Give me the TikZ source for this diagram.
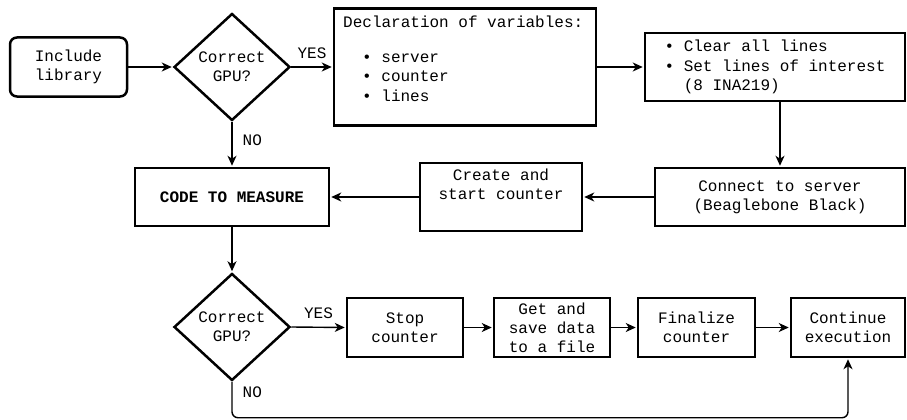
\documentclass[tikz,border=0pt]{standalone}
\usepackage{fontspec}
\setmainfont{Liberation Mono}
\usetikzlibrary{shapes.geometric,arrows.meta}

\tikzset{
    block/.style={draw, line width=2.5pt, inner sep=0pt, align=center, font=\fontsize{16}{19.2}\selectfont},
    decision/.style={diamond, draw, line width=2.5pt, inner sep=0pt, align=center, minimum width=116pt, minimum height=107pt, font=\fontsize{16}{19.2}\selectfont},
    arr/.style={line width=1.4pt, shorten >=1pt, -{Stealth[length=10pt,width=9pt,inset=3pt]}},
    lbl/.style={inner sep=0pt, font=\fontsize{16}{19.2}\selectfont}
}

\begin{document}
\begin{tikzpicture}[x=1pt,y=-1pt]
    \useasboundingbox (0,0) rectangle (907,420);

% top row
    \node[block, rounded corners=7pt, minimum width=117pt, minimum height=59pt] (incl) at (68.5,67) {Include\\library};
    \node[decision] (q1) at (232,67) {Correct\\GPU?};
    \node[block, minimum width=262pt, minimum height=117pt] (decl) at (465,67) {};
    \node[lbl, anchor=north west, align=left] (decltxt) at (343,16) {Declaration of variables:\\[15.8pt]
        \hspace*{19pt}•\ server\\
        \hspace*{19pt}•\ counter\\
        \hspace*{19pt}•\ lines};
    \node[block, align=left, minimum width=260pt, minimum height=68pt] (setl) at (775,67) {•\ Clear all lines\\•\ Set lines of interest\\\hphantom{•\ }(8 INA219)};

% middle row
    \node[block, minimum width=250pt, minimum height=58pt] (conn) at (780,197) {Connect to server\\(Beaglebone Black)};
    \node[block, minimum width=162pt, minimum height=68pt] (create) at (501,197) {Create and\\start counter\\\strut};
    \node[block, minimum width=194pt, minimum height=58pt, font=\fontsize{16}{19.2}\selectfont\bfseries] (code) at (232,197) {CODE TO MEASURE};

% bottom row
    \node[decision] (q2) at (232,327) {Correct\\GPU?};
    \node[block, minimum width=116pt, minimum height=59pt] (stop) at (405,327.5) {Stop\\counter};
    \node[block, minimum width=116pt, minimum height=59pt] (save) at (552,327.5) {Get and\\save data\\to a file};
    \node[block, minimum width=117pt, minimum height=59pt] (fin) at (696.5,327.5) {Finalize\\counter};
    \node[block, minimum width=114pt, minimum height=59pt] (cont) at (848,327.5) {Continue\\execution};

% connectors
    \draw[arr] (incl.east) -- (q1.west);
    \draw[arr] (q1.east) -- node[lbl, above=8pt] {YES} (decl.west);
    \draw[arr] (decl.east) -- (setl.west);
    \draw[arr] (conn.north |- setl.south) -- (conn.north);
    \draw[arr] (conn.west) -- (create.east);
    \draw[arr] (create.west) -- (code.east);
    \draw[arr] (q1.south) -- node[lbl, pos=0.4, right=10pt] {NO} (code.north);
    \draw[arr] (code.south) -- (q2.north);
    \draw[arr] (q2.east) -- node[lbl, above=8pt] {YES} (stop.west);
    \draw[arr] (stop.east) -- (save.west);
    \draw[arr] (save.east) -- (fin.west);
    \draw[arr] (fin.east) -- (cont.west);
    \draw[arr, rounded corners=6pt] (q2.south) -- node[lbl, pos=0.28, right=10pt] {NO} ++(0,36) -| (cont.south);

\end{tikzpicture}
\end{document}
